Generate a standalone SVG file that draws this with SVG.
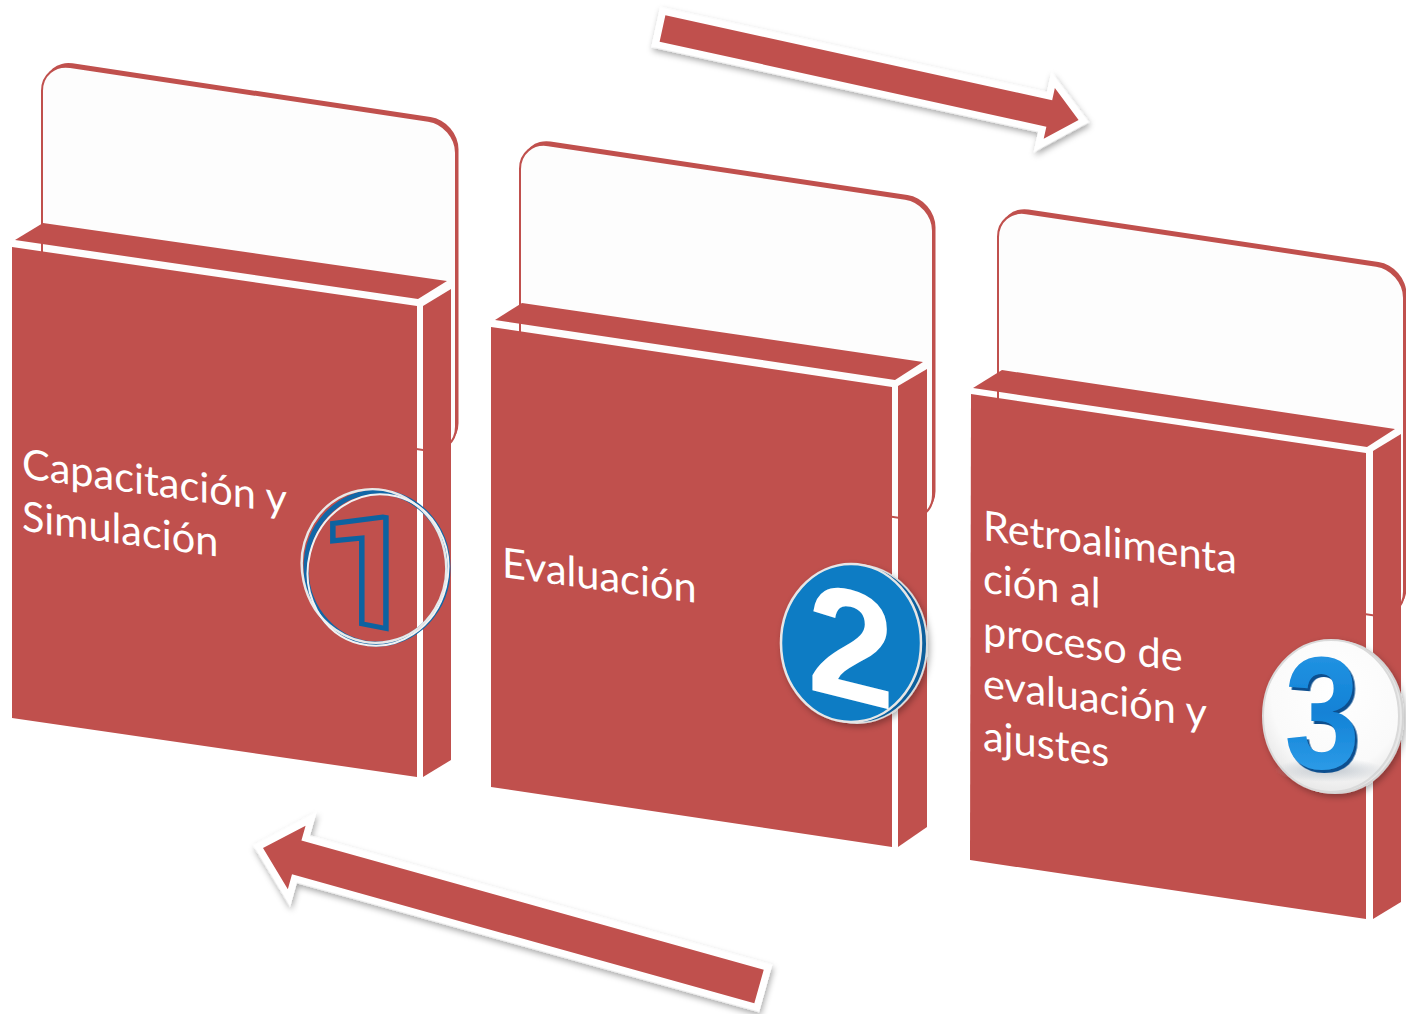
<svg xmlns="http://www.w3.org/2000/svg" width="1406" height="1014" viewBox="0 0 1406 1014">
<style>
.red{fill:#c0504d}
.tabsh{fill:#c0504d}
.tab{fill:#fdfdfd;stroke:#c0504d;stroke-width:2}
.txt{font-family:Lato,"Liberation Sans",sans-serif;font-size:41.5px;fill:#ffffff}
.arrw{fill:#ffffff;stroke:#ffffff;stroke-width:14;stroke-linejoin:miter;filter:url(#sh)}
.arrr{fill:#c0504d}
.digit{font-family:"Liberation Sans",Arial,sans-serif;font-weight:bold}
</style>
<defs>
<filter id="sh" x="-10%" y="-40%" width="125%" height="190%">
<feDropShadow dx="2" dy="3" stdDeviation="3" flood-color="#000" flood-opacity="0.35"/>
</filter>
<filter id="bsh" x="-20%" y="-20%" width="150%" height="150%">
<feDropShadow dx="2" dy="3" stdDeviation="3" flood-color="#000" flood-opacity="0.3"/>
</filter>
<filter id="d3" x="-20%" y="-20%" width="150%" height="150%">
<feDropShadow dx="3" dy="3" stdDeviation="0.6" flood-color="#0a4f8f" flood-opacity="1"/>
</filter>
<radialGradient id="g3bg" cx="0.55" cy="0.35" r="0.7">
<stop offset="0" stop-color="#ffffff"/>
<stop offset="0.7" stop-color="#fafafa"/>
<stop offset="1" stop-color="#e4e4e4"/>
</radialGradient>
<linearGradient id="g3" x1="0" y1="0" x2="0" y2="1">
<stop offset="0" stop-color="#2a9be8"/>
<stop offset="0.5" stop-color="#1282d6"/>
<stop offset="1" stop-color="#3aa8f0"/>
</linearGradient>
<radialGradient id="g3shadow" cx="0.5" cy="0.5" r="0.5">
<stop offset="0" stop-color="#9aa6b2" stop-opacity="0.6"/>
<stop offset="1" stop-color="#9aa6b2" stop-opacity="0"/>
</radialGradient>
</defs>

<g id="card1">
<g transform="translate(42,62.8) skewY(8.53)">
<rect class="tabsh" x="2.5" y="-4" width="414" height="330" rx="28"/>
<rect class="tab" x="0" y="0" width="414" height="330" rx="28"/>
</g>
<polygon class="red" points="15,240 43,223 447,281 418,299"/>
<polygon class="red" points="12,247 417,306 417,777 12,718"/>
<polygon class="red" points="423,306 451,289 451,760 423,777"/>
<text class="txt" transform="translate(22,478) skewY(7.6)"><tspan x="0" y="0">Capacitación y</tspan><tspan x="0" y="52.5">Simulación</tspan></text>
</g>

<g id="card2">
<g transform="translate(520,141) skewY(8.53)">
<rect class="tabsh" x="2.5" y="-4" width="413" height="320" rx="28"/>
<rect class="tab" x="0" y="0" width="413" height="320" rx="28"/>
</g>
<polygon class="red" points="495,320 522,303 923,362 895,380"/>
<polygon class="red" points="491,327 892,387 892,847 491,787"/>
<polygon class="red" points="898,386 927,369 927,827 898,847"/>
<text class="txt" transform="translate(502,577) skewY(7.6)"><tspan x="0" y="0">Evaluación</tspan></text>
</g>

<g id="card3">
<g transform="translate(998,209) skewY(8.53)">
<rect class="tabsh" x="2.5" y="-4" width="406" height="350" rx="28"/>
<rect class="tab" x="0" y="0" width="406" height="350" rx="28"/>
</g>
<polygon class="red" points="973,388 1002,370 1395,429 1367,447"/>
<polygon class="red" points="971,394 1366,453 1366,919 970,860"/>
<polygon class="red" points="1373,451 1401,434 1401,902 1373,919"/>
<text class="txt" transform="translate(983,540) skewY(7.6)"><tspan x="0" y="0">Retroalimenta</tspan><tspan x="0" y="52.5">ción al</tspan><tspan x="0" y="105">proceso de</tspan><tspan x="0" y="157.5">evaluación y</tspan><tspan x="0" y="210">ajustes</tspan></text>
</g>

<g id="badge1">
<ellipse cx="377" cy="568" rx="71" ry="76" fill="none" stroke="#1266a6" stroke-width="5"/>
<ellipse cx="374" cy="566" rx="72" ry="77" fill="none" stroke="#e8e8e8" stroke-width="2.5" transform="rotate(-12 374 566)"/>
<ellipse cx="378" cy="570" rx="70" ry="76" fill="none" stroke="#f2f2f2" stroke-width="2" transform="rotate(14 378 570)"/>
<text x="368" y="625" text-anchor="middle" font-family="Roboto,'Open Sans',sans-serif" font-weight="700" font-size="156" fill="none" stroke="#0d62a0" stroke-width="5" transform="translate(368,625) skewY(11) scale(1.1,1) translate(-368,-625)">1</text>
</g>

<g id="badge2" filter="url(#bsh)">
<ellipse cx="857" cy="644" rx="70" ry="79" fill="#0b5f9c" stroke="#dcdcdc" stroke-width="2"/>
<ellipse cx="851" cy="643" rx="70" ry="79" fill="#0a7bc4" stroke="#e6e6e6" stroke-width="2.5"/>
<text class="digit" x="851" y="700" text-anchor="middle" font-size="158" fill="#ffffff" transform="translate(851,700) skewY(14) translate(-851,-700)">2</text>
</g>

<g id="badge3" filter="url(#bsh)">
<ellipse cx="1335" cy="717" rx="68" ry="76" fill="#e8e8e8" stroke="#d4d4d4" stroke-width="2"/>
<ellipse cx="1331" cy="716" rx="68" ry="76" fill="url(#g3bg)" stroke="#dadada" stroke-width="2"/>
<ellipse cx="1330" cy="770" rx="55" ry="12" fill="url(#g3shadow)"/>
<text class="digit" x="1322" y="768" text-anchor="middle" font-size="160" fill="url(#g3)" filter="url(#d3)" transform="translate(1322,768) scale(0.85,1) translate(-1322,-768)">3</text>
</g>

<g id="connectors">
<g transform="translate(662.5,28.5) rotate(12.39)">
<path class="arrw" d="M0,-13.5 L396,-13.5 L396,-26 L426,0 L396,26 L396,13.5 L0,13.5 Z"/>
<path class="arrr" d="M0,-13.5 L396,-13.5 L396,-26 L426,0 L396,26 L396,13.5 L0,13.5 Z"/>
</g>
<g transform="translate(263,848) rotate(15.6)">
<path class="arrw" d="M0,0 L35,-33 L35,-17.5 L515,-17.5 L515,17.5 L35,17.5 L35,33 Z"/>
<path class="arrr" d="M0,0 L35,-33 L35,-17.5 L515,-17.5 L515,17.5 L35,17.5 L35,33 Z"/>
</g>
</g>
</svg>
